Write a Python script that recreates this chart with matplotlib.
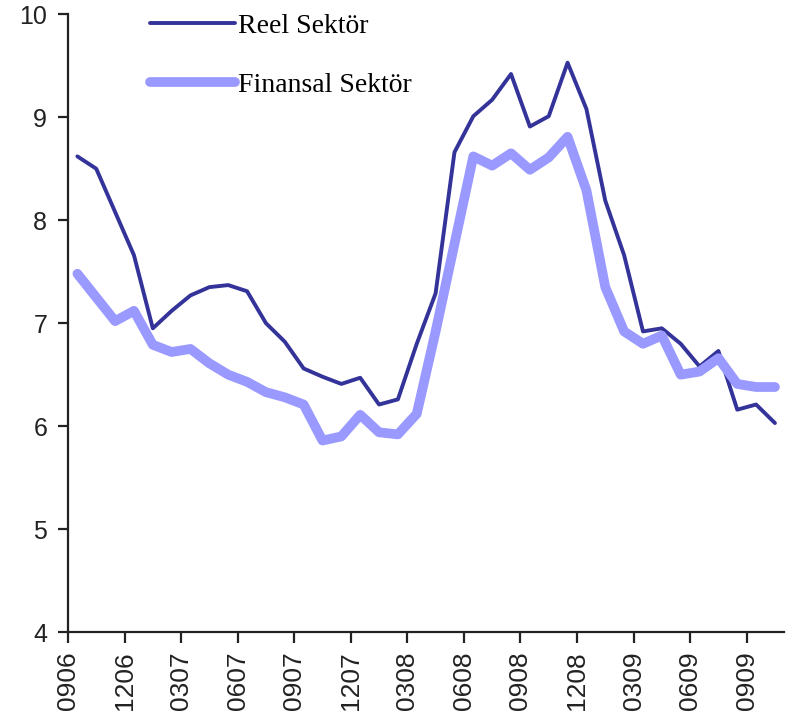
# Reel vs Finansal sektör line chart

import numpy as np
import matplotlib.pyplot as plt

# Monthly values, 09/2006 .. 10/2009
reel = [8.62, 8.50, 8.08, 7.66, 6.95, 7.12, 7.27, 7.35, 7.37, 7.31,
        7.00, 6.82, 6.56, 6.48, 6.41, 6.47, 6.21, 6.26, 6.80, 7.29,
        8.66, 9.01, 9.17, 9.42, 8.91, 9.01, 9.53, 9.08, 8.19, 7.66,
        6.92, 6.95, 6.80, 6.58, 6.73, 6.16, 6.21, 6.03]
finansal = [7.48, 7.25, 7.02, 7.12, 6.79, 6.72, 6.75, 6.61, 6.50, 6.43,
            6.33, 6.28, 6.21, 5.86, 5.90, 6.11, 5.94, 5.92, 6.12, 6.92,
            7.77, 8.62, 8.53, 8.65, 8.49, 8.61, 8.81, 8.29, 7.35, 6.92,
            6.80, 6.88, 6.50, 6.53, 6.66, 6.41, 6.38, 6.38]
tick_labels = ['0906', '1206', '0307', '0607', '0907', '1207', '0308',
               '0608', '0908', '1208', '0309', '0609', '0909']

x = np.arange(len(reel))

fig = plt.figure(figsize=(7.96, 7.15), dpi=100)
ax = fig.add_axes([0.0854, 0.116, 0.9, 0.864])

ax.plot(x, reel, color='#333399', lw=2.8, label='Reel Sektör',
        solid_capstyle='round', solid_joinstyle='round', zorder=2)
ax.plot(x, finansal, color='#9999ff', lw=7, label='Finansal Sektör',
        solid_capstyle='round', solid_joinstyle='round', zorder=3)

ax.set_xlim(-0.5, len(reel) - 0.5)
ax.set_ylim(4, 10)
ax.set_yticks(range(4, 11))
ax.set_xticks(np.arange(len(tick_labels)) * 3 - 0.5)
ax.set_xticklabels(tick_labels, rotation=90)

for s in ['top', 'right']:
    ax.spines[s].set_visible(False)
for s in ['left', 'bottom']:
    ax.spines[s].set_linewidth(1.6)
    ax.spines[s].set_color('#222222')
ax.tick_params(axis='y', direction='out', length=7, width=1.6,
               labelsize=18, pad=8, colors='#222222')
ax.tick_params(axis='x', direction='out', length=8, width=1.6,
               labelsize=19, pad=6, colors='#222222')
for lab in ax.get_xticklabels() + ax.get_yticklabels():
    lab.set_fontfamily('Liberation Sans')

ax.legend(loc='upper left', bbox_to_anchor=(0.08, 1.042), frameon=False,
          prop={'family': 'Liberation Serif', 'size': 20},
          handlelength=3.05, handletextpad=0.12, labelspacing=1.2)

fig.savefig('out.png')
